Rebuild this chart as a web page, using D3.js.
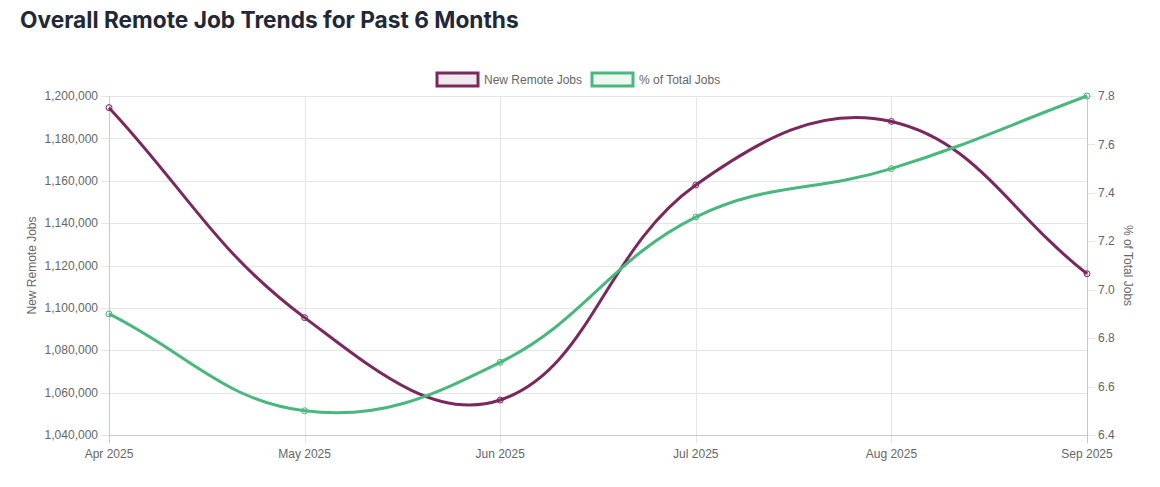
<!DOCTYPE html>
<html>
<head>
<meta charset="utf-8">
<script src="https://cdn.jsdelivr.net/npm/d3@7"></script>
<style>
  body { margin: 0; background: #fff; }
  svg { display: block; }
</style>
</head>
<body>
<div id="chart"></div>
<script>
// data
const months = ["Apr 2025", "May 2025", "Jun 2025", "Jul 2025", "Aug 2025", "Sep 2025"];
const newRemoteJobs = [1194500, 1095400, 1056500, 1158000, 1188000, 1116100];
const pctOfTotal = [6.9, 6.5, 6.7, 7.3, 7.5, 7.8];
const leftTicks = [1040000, 1060000, 1080000, 1100000, 1120000, 1140000, 1160000, 1180000, 1200000];
const rightTicks = [6.4, 6.6, 6.8, 7.0, 7.2, 7.4, 7.6, 7.8];

const width = 1160, height = 487;
const margin = {top: 96, right: 73, bottom: 52, left: 109};
const purple = "#7a285d", green = "#4ab87c";
const labelFont = "'Liberation Sans', Arial, sans-serif";

const svg = d3.select("#chart").append("svg")
    .attr("width", width)
    .attr("height", height)
    .style("font-family", labelFont);

svg.append("text")
    .attr("x", 20).attr("y", 28)
    .attr("font-family", "Inter, sans-serif")
    .attr("font-weight", 700)
    .attr("font-size", 22.7)
    .attr("fill", "#1f2937")
    .text("Overall Remote Job Trends for Past 6 Months");

const x = d3.scalePoint().domain(months).range([margin.left, width - margin.right]);
const yL = d3.scaleLinear().domain([1040000, 1200000]).range([height - margin.bottom, margin.top]);
const yR = d3.scaleLinear().domain([6.4, 7.8]).range([height - margin.bottom, margin.top]);
const plotTop = margin.top, plotBottom = height - margin.bottom;
const plotLeft = margin.left, plotRight = width - margin.right;

// grid
const grid = svg.append("g").attr("stroke", "#e5e5e5").attr("stroke-width", 1);
grid.selectAll(".h").data(leftTicks).join("line")
    .attr("x1", plotLeft - 8).attr("x2", plotRight)
    .attr("y1", d => Math.round(yL(d)) + 0.5).attr("y2", d => Math.round(yL(d)) + 0.5);
grid.selectAll(".v").data(months).join("line")
    .attr("x1", d => Math.round(x(d)) + 0.5).attr("x2", d => Math.round(x(d)) + 0.5)
    .attr("y1", plotTop).attr("y2", plotBottom + 8);
svg.append("g").attr("stroke", "#e5e5e5").selectAll("line").data(rightTicks).join("line")
    .attr("x1", plotRight).attr("x2", plotRight + 8)
    .attr("y1", d => Math.round(yR(d)) + 0.5).attr("y2", d => Math.round(yR(d)) + 0.5);

// axis borders
svg.append("line").attr("stroke", "#c8c8c8")
    .attr("x1", plotLeft + 0.5).attr("x2", plotLeft + 0.5).attr("y1", plotTop).attr("y2", plotBottom + 8);
svg.append("line").attr("stroke", "#c8c8c8")
    .attr("x1", plotRight + 0.5).attr("x2", plotRight + 0.5).attr("y1", plotTop).attr("y2", plotBottom + 8);
svg.append("line").attr("stroke", "#c8c8c8")
    .attr("x1", plotLeft).attr("x2", plotRight).attr("y1", plotBottom + 0.5).attr("y2", plotBottom + 0.5);

// tick labels
const fmt = d3.format(",");
svg.append("g").attr("font-size", 12).attr("fill", "#666").attr("text-anchor", "end")
  .selectAll("text").data(leftTicks).join("text")
    .attr("x", plotLeft - 11).attr("y", d => yL(d)).attr("dy", "0.35em")
    .text(d => fmt(d));
svg.append("g").attr("font-size", 12).attr("fill", "#666").attr("text-anchor", "start")
  .selectAll("text").data(rightTicks).join("text")
    .attr("x", plotRight + 11).attr("y", d => yR(d)).attr("dy", "0.35em")
    .text(d => d.toFixed(1));
svg.append("g").attr("font-size", 12).attr("fill", "#666").attr("text-anchor", "middle")
  .selectAll("text").data(months).join("text")
    .attr("x", d => x(d)).attr("y", plotBottom + 23)
    .text(d => d);

// axis titles
svg.append("text").attr("font-size", 12).attr("fill", "#666").attr("text-anchor", "middle")
    .attr("transform", `translate(36,${(plotTop + plotBottom) / 2}) rotate(-90)`)
    .text("New Remote Jobs");
svg.append("text").attr("font-size", 12).attr("fill", "#666").attr("text-anchor", "middle")
    .attr("transform", `translate(1124,${(plotTop + plotBottom) / 2}) rotate(90)`)
    .text("% of Total Jobs");

// chart.js style spline (tension 0.4)
function splinePath(pts, t) {
  const cps = pts.map((p, i) => {
    const prev = pts[i - 1] || p, next = pts[i + 1] || p;
    const d01 = Math.hypot(p[0] - prev[0], p[1] - prev[1]);
    const d12 = Math.hypot(next[0] - p[0], next[1] - p[1]);
    let s01 = d01 / (d01 + d12), s12 = d12 / (d01 + d12);
    if (isNaN(s01)) s01 = 0;
    if (isNaN(s12)) s12 = 0;
    const fa = t * s01, fb = t * s12;
    const clampY = v => Math.max(plotTop, Math.min(plotBottom, v));
    return {
      prev: [p[0] - fa * (next[0] - prev[0]), clampY(p[1] - fa * (next[1] - prev[1]))],
      next: [p[0] + fb * (next[0] - prev[0]), clampY(p[1] + fb * (next[1] - prev[1]))]
    };
  });
  const path = d3.path();
  path.moveTo(pts[0][0], pts[0][1]);
  for (let i = 1; i < pts.length; i++) {
    const a = cps[i - 1].next, b = cps[i].prev;
    path.bezierCurveTo(a[0], a[1], b[0], b[1], pts[i][0], pts[i][1]);
  }
  return path.toString();
}

const series = [
  {values: newRemoteJobs, y: yL, color: purple, fill: "rgba(122,40,93,0.1)"},
  {values: pctOfTotal, y: yR, color: green, fill: "rgba(74,184,124,0.1)"}
];

series.forEach(s => {
  const pts = s.values.map((v, i) => [x(months[i]), s.y(v)]);
  svg.append("path")
      .attr("d", splinePath(pts, 0.4))
      .attr("fill", "none")
      .attr("stroke", s.color)
      .attr("stroke-width", 3);
  svg.append("g").selectAll("circle").data(pts).join("circle")
      .attr("cx", d => d[0]).attr("cy", d => d[1]).attr("r", 3)
      .attr("fill", s.fill).attr("stroke", s.color).attr("stroke-width", 1);
});

// legend
const legend = [
  {label: "New Remote Jobs", color: purple, fill: "rgba(122,40,93,0.1)", x: 437},
  {label: "% of Total Jobs", color: green, fill: "rgba(74,184,124,0.1)", x: 592}
];
const lg = svg.append("g").selectAll("g").data(legend).join("g");
lg.append("rect")
    .attr("x", d => d.x).attr("y", 73).attr("width", 41).attr("height", 13)
    .attr("fill", d => d.fill).attr("stroke", d => d.color).attr("stroke-width", 3);
lg.append("text")
    .attr("x", d => d.x + 47).attr("y", 79.5).attr("dy", "0.35em")
    .attr("font-size", 12).attr("fill", "#666")
    .text(d => d.label);
</script>
</body>
</html>
